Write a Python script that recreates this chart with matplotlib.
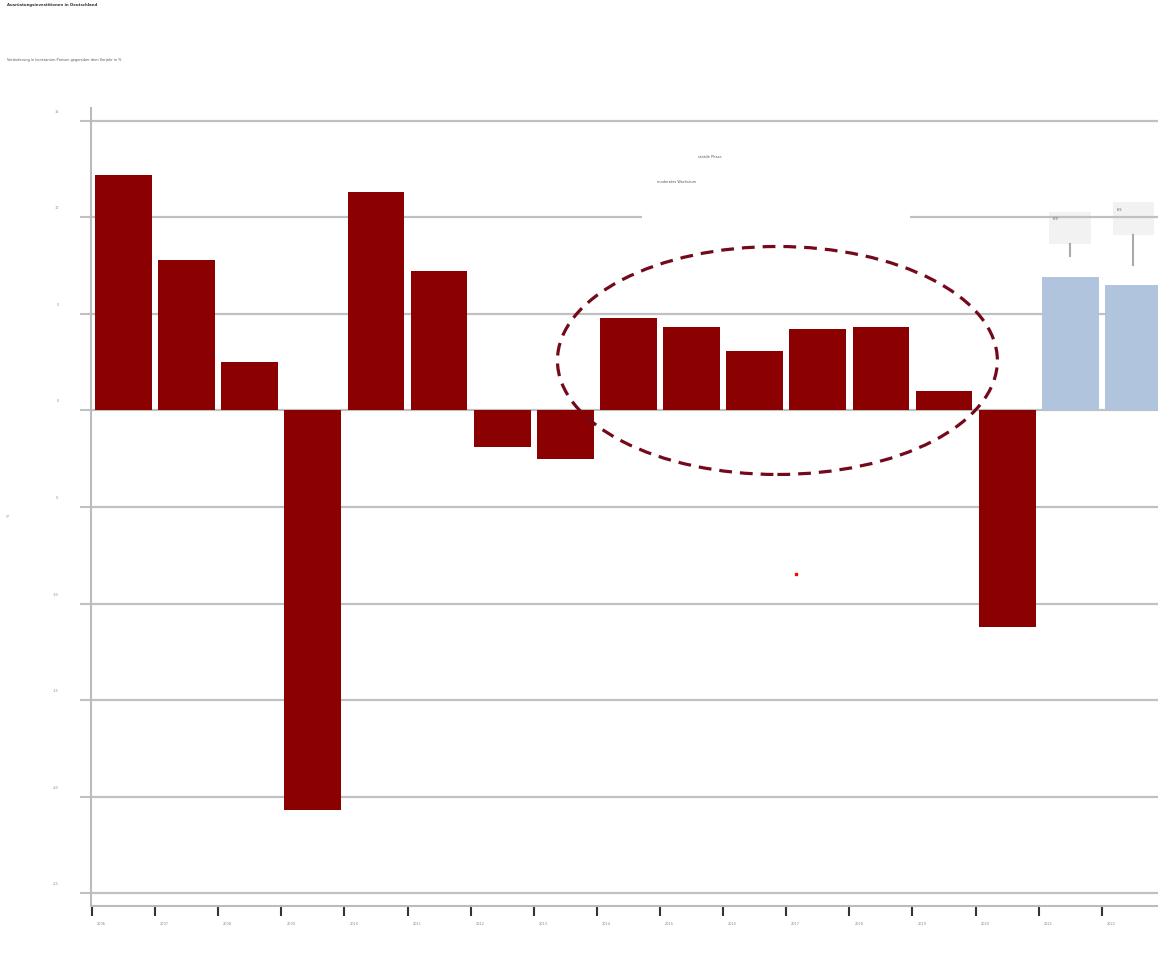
import numpy as np
import matplotlib.pyplot as plt
from matplotlib.patches import Ellipse, Rectangle
from matplotlib.transforms import ScaledTranslation

years = [str(y) for y in range(2006, 2023)]
values = [12.2, 7.8, 2.5, -20.7, 11.3, 7.25, -1.9, -2.5, 4.8, 4.35, 3.1, 4.2, 4.35, 1.0, -11.2, 6.9, 6.5]
forecast = [False] * 15 + [True, True]
yticks = [15, 10, 5, 0, -5, -10, -15, -20, -25]
box_labels = ["6,9", "6,5"]

title = "Ausrüstungsinvestitionen in Deutschland"
subtitle = "Veränderung in konstanten Preisen gegenüber dem Vorjahr in %"

fig = plt.figure(figsize=(11.58, 9.61), dpi=100)
ax = fig.add_axes([91 / 1158, 1 - 906 / 961, 1 - 91 / 1158, (906 - 108) / 961])

x = np.arange(len(years))
colors = ["#b0c4de" if f else "#8b0000" for f in forecast]
ax.bar(x, values, width=0.9, color=colors, zorder=3)

ax.set_xlim(-0.515, 16.39)
ax.set_ylim(-25.67, 15.67)

ax.set_yticks(yticks)
ax.set_yticklabels([str(v) for v in yticks], fontsize=2.5, color="#888888")
ax.grid(axis="y", color="#c0c0c0", linewidth=1.6, zorder=1)
ax.tick_params(axis="y", length=8, width=1.5, color="#c0c0c0", pad=15)
up = ScaledTranslation(0, 7 / 100, fig.dpi_scale_trans)
for lab in ax.get_yticklabels():
    lab.set_verticalalignment("bottom")
    lab.set_transform(lab.get_transform() + up)

ax.set_xticks(x - 0.5)
ax.set_xticklabels(years, fontsize=2.5, color="#888888", ha="left")
ax.tick_params(axis="x", length=7.5, width=1.5, color="#333333", pad=4)
off = ScaledTranslation(5 / 100, 0, fig.dpi_scale_trans)
for lab in ax.get_xticklabels():
    lab.set_transform(lab.get_transform() + off)

for s in ["top", "right"]:
    ax.spines[s].set_visible(False)
for s in ["left", "bottom"]:
    ax.spines[s].set_color("#bbbbbb")
    ax.spines[s].set_linewidth(1.5)

ax.set_ylabel("%", fontsize=2.5, color="#888888")
ax.yaxis.set_label_coords(-0.075, 0.49)

# white background behind annotation texts
ax.add_patch(Rectangle((8.22, 9.3), 4.24, 4.2, facecolor="white", edgecolor="none", zorder=2))
ax.text(9.1, 13.1, "stabile Phase", fontsize=2.5, color="#555555", zorder=4)
ax.text(8.45, 11.8, "moderates Wachstum", fontsize=2.5, color="#555555", zorder=4)

ax.add_patch(Ellipse((10.36, 2.59), 6.97, 11.81, fill=False, edgecolor="#720a1c",
                     linewidth=2.3, linestyle=(0, (4, 2.5)), zorder=5))
ax.plot([10.66], [-8.45], marker="s", markersize=1.5, color="red", zorder=5)

# forecast callout boxes
boxes = [(15, 8.6, 10.3, 8.0), (16, 9.07, 10.78, 7.56)]
for (bx, y0, y1, yl), lab in zip(boxes, box_labels):
    ax.add_patch(Rectangle((bx - 0.33, y0), 0.66, y1 - y0, facecolor="#f2f2f2",
                           edgecolor="none", zorder=0.5))
    ax.plot([bx, bx], [yl, y0], color="#aaaaaa", linewidth=1.5, zorder=2)
    ax.text(bx - 0.27, y1 - 0.3, lab, fontsize=2.5, color="#555555", va="top", zorder=4)

fig.text(7 / 1158, 1 - 5 / 961, title, fontsize=2.8, fontweight="bold", color="#333333",
         va="center", ha="left")
fig.text(7 / 1158, 1 - 60 / 961, subtitle, fontsize=2.5, color="#555555", va="center", ha="left")

fig.savefig("out.png", dpi=100)
